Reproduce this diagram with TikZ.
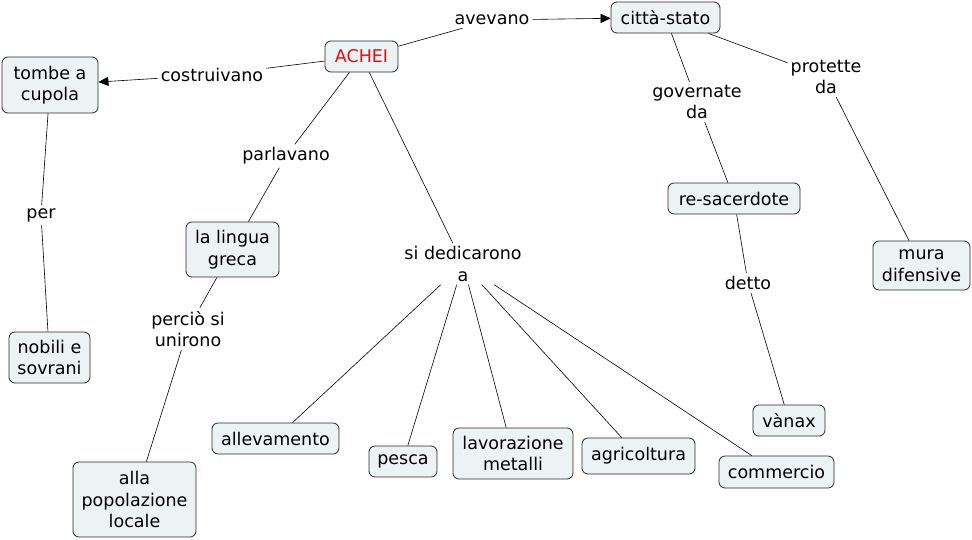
\documentclass[tikz,border=0pt]{standalone}
\usepackage{fontspec}
\setmainfont{DejaVu Sans}
\usetikzlibrary{arrows.meta}
\definecolor{boxfill}{RGB}{236,243,245}
\definecolor{boxline}{RGB}{40,40,40}
\definecolor{acheired}{RGB}{224,16,16}
\begin{document}
\begin{tikzpicture}[x=1pt,y=-1pt,
  concept/.style={draw=boxline, fill=boxfill, rounded corners=6pt, line width=0.8pt,
    align=center, inner sep=1pt, font=\fontsize{17.5}{21.5}\selectfont},
  sz/.style 2 args={minimum width=#1pt, minimum height=#2pt},
  lbl/.style={align=center, inner sep=3pt, font=\fontsize{17.5}{21.5}\selectfont},
  link/.style={draw=black, line width=0.6pt},
  arr/.style={link, -{Triangle[length=10pt,width=9pt]}}]
\useasboundingbox (0,0) rectangle (972,539);
% concepts
\node[concept, sz={73}{31}, text=acheired] (achei) at (361.5,56.5) {ACHEI};
\node[concept, sz={109}{31}] (citta) at (665.5,17.5) {città-stato};
\node[concept, sz={96}{56}] (tombe) at (50,85) {tombe a\\cupola};
\node[concept, sz={81}{51}] (nobili) at (49.5,357.5) {nobili e\\sovrani};
\node[concept, sz={93}{55}] (lingua) at (232.5,249.5) {la lingua\\greca};
\node[concept, sz={123}{75}] (popol) at (134.5,499.5) {alla\\popolazione\\locale};
\node[concept, sz={127}{31}] (allev) at (275.5,438.5) {allevamento};
\node[concept, sz={68}{31}] (pesca) at (403,461.5) {pesca};
\node[concept, sz={120}{51}] (lavor) at (513,453.5) {lavorazione\\metalli};
\node[concept, sz={113}{36}] (agri) at (638.5,456) {agricoltura};
\node[concept, sz={115}{32}] (comm) at (776.5,472) {commercio};
\node[concept, sz={132}{31}] (resac) at (734,198.5) {re-sacerdote};
\node[concept, sz={72}{31}] (vanax) at (789,420.5) {vànax};
\node[concept, sz={97}{49}] (mura) at (921.5,265.5) {mura\\difensive};
% link labels
\node[lbl] (avevano) at (492,20) {avevano};
\node[lbl] (costr) at (212,75) {costruivano};
\node[lbl] (parl) at (286,156) {parlavano};
\node[lbl] (per) at (41,215) {per};
\node[lbl] (percio) at (188,329) {perciò si\\unirono};
\node[lbl] (sided) at (463,264) {si dedicarono\\a};
\node[lbl] (gov) at (697,102) {governate\\da};
\node[lbl] (prot) at (826,77) {protette\\da};
\node[lbl] (detto) at (748,283) {detto};
% connectors
\draw[link] (achei) -- (avevano);
\draw[arr] (avevano) -- (citta);
\draw[link] (achei) -- (costr);
\draw[arr] (costr) -- (tombe);
\draw[link] (achei) -- (parl);
\draw[link] (parl) -- (lingua);
\draw[link] (achei) -- (sided);
\draw[link] (sided) -- (allev);
\draw[link] (sided) -- (pesca);
\draw[link] (sided) -- (lavor);
\draw[link] (sided) -- (agri);
\draw[link] (sided) -- (comm);
\draw[link] (tombe) -- (per);
\draw[link] (per) -- (nobili);
\draw[link] (lingua) -- (percio);
\draw[link] (percio) -- (popol);
\draw[link] (citta) -- (gov);
\draw[link] (gov) -- (resac);
\draw[link] (citta) -- (prot);
\draw[link] (prot) -- (mura);
\draw[link] (resac) -- (detto);
\draw[link] (detto) -- (vanax);
\end{tikzpicture}
\end{document}
